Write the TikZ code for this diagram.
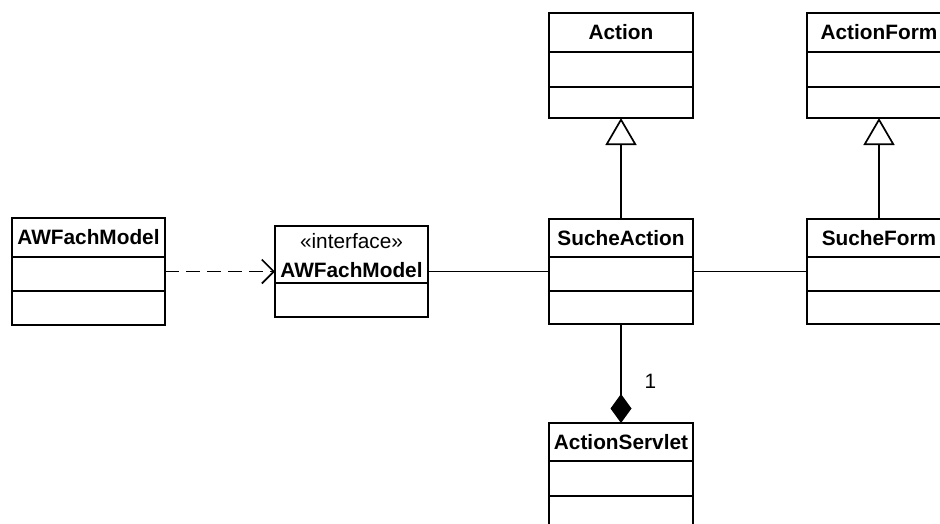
\documentclass[tikz,border=0pt]{standalone}
\usepackage{fontspec}
\setmainfont{Liberation Sans}
\usetikzlibrary{arrows.meta,calc}
\newcommand{\umlclassbox}[8]{%
  \node[classbox, minimum width=#4, minimum height=#5] (#1) at (#2,#3) {};
  \draw[divline] ($(#1.north west)+(0,#6)$) -- ($(#1.north east)+(0,#6)$);
  \draw[divline] ($(#1.north west)+(0,#7)$) -- ($(#1.north east)+(0,#7)$);
  \node[classname] (#1-name) at ($(#1.north)+(0,#6/2)$) {#8};
}
\begin{document}
\begin{tikzpicture}[x=1pt,y=-1pt,
  classbox/.style={draw=black, line width=1.7pt, fill=white, inner sep=0pt, outer sep=0pt},
  divline/.style={draw=black, line width=1.7pt},
  classname/.style={inner sep=0pt, font=\fontsize{20.8}{24}\selectfont\bfseries, text height=14.9pt, text depth=0pt},
  stereo/.style={inner sep=0pt, font=\fontsize{20.8}{24}\selectfont},
  lbl/.style={inner sep=0pt, font=\fontsize{20.8}{24}\selectfont},
  conn/.style={draw=black, line width=1.7pt},
  gen/.style={conn, -{Triangle[open,length=27pt,width=31pt,line width=1.7pt]}},
  dep/.style={conn, dash pattern=on 14pt off 7pt, -{Straight Barb[length=12pt,width=24pt,line width=1.7pt]}},
  comp/.style={conn, -{Diamond[length=29pt,width=21pt]}}
]
\useasboundingbox (0,0) rectangle (940,523);
\begin{scope}
\clip (0,0) rectangle (940,523);
\fill[white] (0,0) rectangle (940,523);

% classes
\umlclassbox{awl}{88.5}{271.5}{153}{107}{39}{73}{AWFachModel}
\umlclassbox{action}{621}{65.5}{144}{105}{39}{74}{Action}
\umlclassbox{actionform}{879}{65.5}{144}{105}{39}{74}{ActionForm}
\umlclassbox{sucheaction}{621}{271.5}{144}{105}{38}{72}{SucheAction}
\umlclassbox{sucheform}{879}{271.5}{144}{105}{38}{72}{SucheForm}
\umlclassbox{actionservlet}{621}{475.5}{144}{105}{38}{73}{ActionServlet}

% interface
\node[classbox, minimum width=153, minimum height=91] (iface) at (351.5,271.5) {};
\draw[divline] ($(iface.north west)+(0,57)$) -- ($(iface.north east)+(0,57)$);
\node[stereo, anchor=base] (iface-stereo) at (351.5,248) {«interface»};
\node[classname, anchor=base] (iface-name) at (351.5,277) {AWFachModel};

% connectors
\draw[gen] (sucheaction.north) -- (action.south);
\draw[gen] (sucheform.north) -- (actionform.south);
\draw[dep] (awl.east) -- (iface.west);
\draw[conn] (iface.east) -- (sucheaction.west);
\draw[conn] (sucheaction.east) -- (sucheform.west);
\draw[comp] (sucheaction.south) -- (actionservlet.north);
\node[lbl, anchor=base] (mult) at (650.5,388) {1};
\end{scope}
\end{tikzpicture}
\end{document}
